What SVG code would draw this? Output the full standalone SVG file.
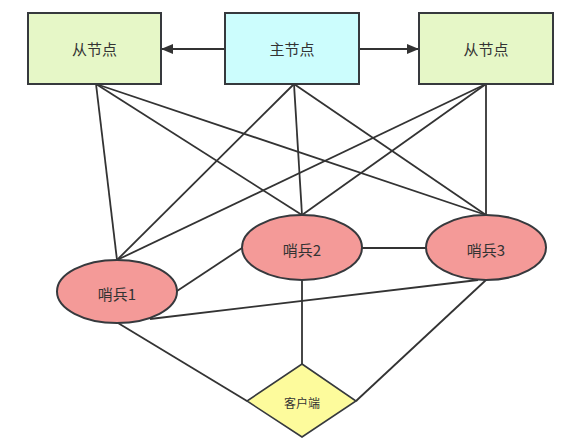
<svg xmlns="http://www.w3.org/2000/svg" width="588" height="438" viewBox="0 0 588 438">
<style>
.box{stroke:#36393d;stroke-width:2}
.slave{fill:#e6f7c7}
.master{fill:#ccfdfd}
.sent{fill:#f49a98;stroke:#36393d;stroke-width:2}
.client{fill:#fdfb9c;stroke:#36393d;stroke-width:1.6}
.ln{stroke:#333;stroke-width:1.8;fill:none}
text{font-family:"Noto Sans CJK SC","Noto Sans",sans-serif;fill:#333;text-anchor:middle;dominant-baseline:central}
.t14{font-size:15px}
.t12{font-size:12px}
</style>
<defs>
<marker id="arr" markerWidth="12" markerHeight="10" refX="11" refY="5" orient="auto" markerUnits="userSpaceOnUse">
<path d="M0,0 L12,5 L0,10 Z" fill="#333"/>
</marker>
</defs>
<rect width="588" height="438" fill="#ffffff"/>
<g id="connectors">
<line class="ln" x1="225" y1="49" x2="162" y2="49" marker-end="url(#arr)"/>
<line class="ln" x1="359" y1="49" x2="418" y2="49" marker-end="url(#arr)"/>
<line class="ln" x1="96" y1="84" x2="117" y2="260"/>
<line class="ln" x1="96" y1="84" x2="302" y2="215"/>
<line class="ln" x1="96" y1="84" x2="486" y2="215"/>
<line class="ln" x1="294" y1="84" x2="117" y2="260"/>
<line class="ln" x1="294" y1="84" x2="302" y2="215"/>
<line class="ln" x1="294" y1="84" x2="486" y2="215"/>
<line class="ln" x1="486" y1="84" x2="117" y2="260"/>
<line class="ln" x1="486" y1="84" x2="302" y2="215"/>
<line class="ln" x1="486" y1="84" x2="486" y2="215"/>
<line class="ln" x1="177" y1="291" x2="242" y2="248"/>
<line class="ln" x1="362" y1="248" x2="426" y2="248"/>
<line class="ln" x1="150" y1="319" x2="478" y2="280"/>
<line class="ln" x1="118" y1="323" x2="247" y2="401"/>
<line class="ln" x1="302" y1="280" x2="302" y2="364"/>
<line class="ln" x1="486" y1="280" x2="356" y2="401"/>
</g>
<g id="slave-left">
<rect class="box slave" x="28" y="13" width="133" height="71"/>
<text class="t14" x="94.5" y="48.5">从节点</text>
</g>
<g id="master">
<rect class="box master" x="225" y="13" width="134" height="71"/>
<text class="t14" x="292" y="48.5">主节点</text>
</g>
<g id="slave-right">
<rect class="box slave" x="419" y="13" width="134" height="71"/>
<text class="t14" x="486" y="48.5">从节点</text>
</g>
<g id="sentinel1">
<ellipse class="sent" cx="117" cy="291.5" rx="60" ry="31.5"/>
<text class="t14" x="117" y="293">哨兵1</text>
</g>
<g id="sentinel2">
<ellipse class="sent" cx="302" cy="247.5" rx="60" ry="32.5"/>
<text class="t14" x="302" y="249">哨兵2</text>
</g>
<g id="sentinel3">
<ellipse class="sent" cx="486" cy="247.5" rx="60" ry="32.5"/>
<text class="t14" x="486" y="249">哨兵3</text>
</g>
<g id="client">
<polygon class="client" points="302,364 356,401 302,437 247,401"/>
<text class="t12" x="302" y="402">客户端</text>
</g>
</svg>
